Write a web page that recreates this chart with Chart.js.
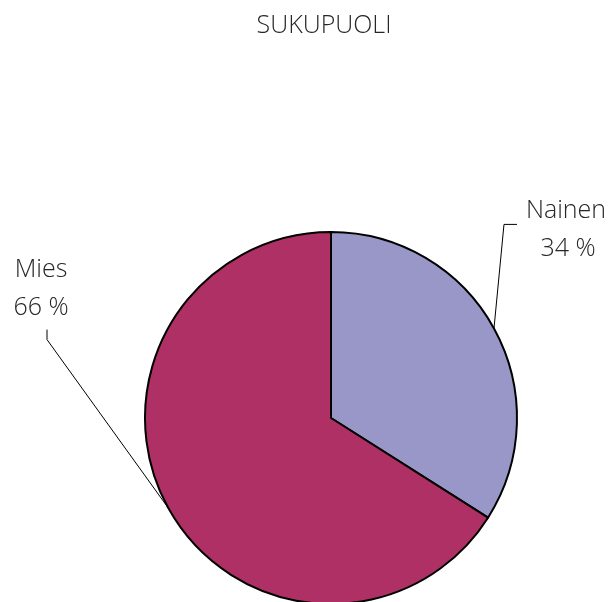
<!DOCTYPE html>
<html>
<head>
<meta charset="utf-8">
<script src="https://cdn.jsdelivr.net/npm/chart.js@4/dist/chart.umd.min.js"></script>
<style>
html,body{margin:0;padding:0;background:#fff;overflow:hidden;}
#wrap{width:613px;height:602px;overflow:hidden;}
</style>
</head>
<body>
<div id="wrap"><canvas id="c" width="613" height="606"></canvas></div>
<script>
const title = 'SUKUPUOLI';
const categories = ['Nainen', 'Mies'];
const values = [34, 66];
const colors = ['#9897C8', '#AF3064'];

const FONT = '300 25px "Open Sans", "Segoe UI", sans-serif';
const TXT = '#262626';

const labelPlugin = {
  id: 'labels',
  afterDraw(chart) {
    const ctx = chart.ctx;
    ctx.save();
    ctx.font = FONT;
    ctx.fillStyle = TXT;
    ctx.textAlign = 'center';
    ctx.textBaseline = 'middle';
    ctx.fillText(title, 324, 26);
    const meta = chart.getDatasetMeta(0);
    meta.data.forEach((arc, i) => {
      const p = arc.getProps(['x','y','startAngle','endAngle','outerRadius'], true);
      const mid = (p.startAngle + p.endAngle) / 2;
      const sx = p.x + Math.cos(mid) * p.outerRadius;
      const sy = p.y + Math.sin(mid) * p.outerRadius;
      const right = Math.cos(mid) >= 0;
      ctx.strokeStyle = '#000';
      ctx.lineWidth = 1;
      ctx.beginPath();
      ctx.moveTo(sx, sy);
      let lx, ly;
      if (right) {
        ctx.lineTo(sx + 10, sy - 104);
        ctx.lineTo(sx + 23, sy - 104);
        lx = sx + 72; ly = sy - 118;
      } else {
        ctx.lineTo(sx - 121, sy - 168);
        ctx.lineTo(sx - 121, sy - 178);
        lx = sx - 127; ly = sy - 238;
      }
      ctx.stroke();
      ctx.fillStyle = TXT;
      ctx.fillText(categories[i], lx, ly);
      ctx.fillText(values[i] + ' %', lx + (right ? 2 : 0), ly + 38);
    });
    ctx.restore();
  }
};

new Chart(document.getElementById('c'), {
  type: 'pie',
  data: {
    labels: categories,
    datasets: [{
      data: values,
      backgroundColor: colors,
      borderColor: '#000',
      borderWidth: 2,
      borderAlign: 'center'
    }]
  },
  options: {
    responsive: false,
    animation: false,
    layout: { padding: { left: 144, right: 95, top: 231, bottom: 1 } },
    plugins: { legend: { display: false }, tooltip: { enabled: false }, title: { display: false } }
  },
  plugins: [labelPlugin]
});
</script>
</body>
</html>
